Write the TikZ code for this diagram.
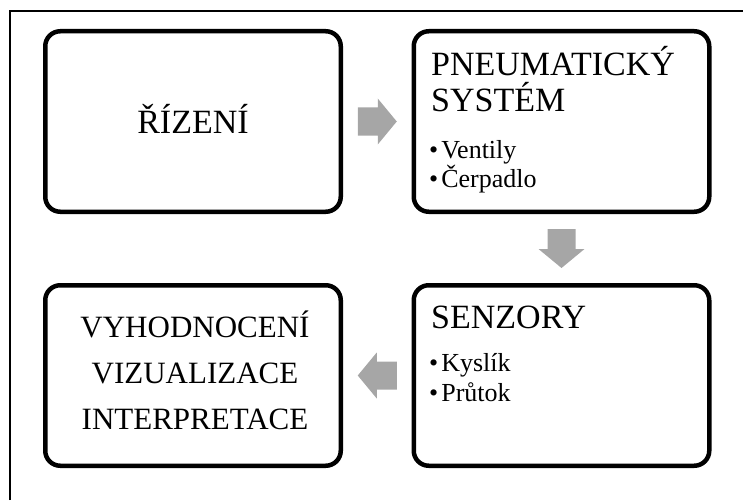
\documentclass[tikz,border=0pt]{standalone}
\usepackage{fontspec}
\setmainfont{Liberation Serif}
\usetikzlibrary{calc}
\definecolor{arrowgray}{RGB}{166,166,166}
\tikzset{
  box/.style={draw=black, line width=4.5pt, rounded corners=15pt, minimum width=295.5pt, minimum height=180.5pt, inner sep=0pt, fill=white},
  ttl/.style={font=\fontsize{34}{40}\selectfont, inner sep=0pt},
  ttlsmall/.style={font=\fontsize{31}{40}\selectfont, inner sep=0pt, anchor=base},
  bul/.style={font=\fontsize{26}{30}\selectfont, inner sep=0pt, anchor=base west},
  blkarrow/.pic={\fill[arrowgray] (-19.5,-14) -- (0.5,-14) -- (0.5,-23) -- (19.5,0) -- (0.5,23) -- (0.5,14) -- (-19.5,14) -- cycle;},
  framerule/.style={line width=1.3pt}
}
\begin{document}
\begin{tikzpicture}[x=1pt,y=-1pt]
\useasboundingbox (0,0) rectangle (743,500);
\draw[framerule] (10,500) -- (10,11) -- (743,11);
% boxes
\node[box] (b1) at (193,121.5) {};
\node[box] (b2) at (561.5,121.5) {};
\node[box] (b3) at (561.5,375.5) {};
\node[box] (b4) at (193,375.5) {};
% texts
\node[ttl, anchor=base] (t1) at (193,133.3) {ŘÍZENÍ};
\node[ttl, anchor=base west] (t2a) at (431,76) {PNEUMATICKÝ};
\node[ttl, anchor=base west] (t2b) at (431,111) {SYSTÉM};
\node[bul] (t2c) at (429,158) {•\kern3pt Ventily};
\node[bul] (t2d) at (429,187) {•\kern3pt Čerpadlo};
\node[ttl, anchor=base west] (t3a) at (431,328) {SENZORY};
\node[bul] (t3b) at (429,371.5) {•\kern3pt Kyslík};
\node[bul] (t3c) at (429,401.5) {•\kern3pt Průtok};
\node[ttlsmall] (t4a) at (195,337.5) {VYHODNOCENÍ};
\node[ttlsmall] (t4b) at (195,383) {VIZUALIZACE};
\node[ttlsmall] (t4c) at (195,429) {INTERPRETACE};
% arrows
\coordinate (a12) at ($(b1.east)!0.5!(b2.west)$);
\coordinate (a23) at ($(b2.south)!0.5!(b3.north)$);
\coordinate (a34) at ($(b3.west)!0.5!(b4.east)$);
\pic at (a12) {blkarrow};
\pic[rotate=-90] at (a23) {blkarrow};
\pic[rotate=180] at (a34) {blkarrow};
\end{tikzpicture}
\end{document}
